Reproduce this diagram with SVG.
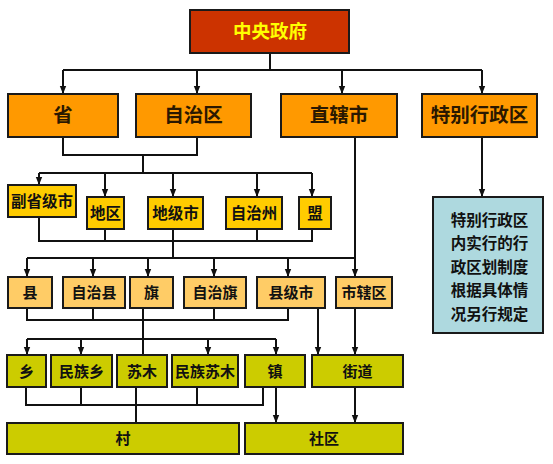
<svg xmlns="http://www.w3.org/2000/svg" width="553" height="464" viewBox="0 0 553 464">
<defs>
<style>
.b{stroke:#1a1a1a;stroke-width:2}
.c0{fill:#CC3300}
.c1{fill:#FF9900}
.c2{fill:#FFCC00}
.c3{fill:#FFCC66}
.c4{fill:#CCCC00}
.c5{fill:#AED9DF}
text{font-family:"Noto Sans CJK SC","Noto Sans",sans-serif;font-weight:bold;text-anchor:middle;fill:#111}
.t0{font-size:18.5px;fill:#FFFF00}
.t1{font-size:19.5px;fill:#2a1800}
.t2{font-size:15.5px}
.t3{font-size:15px}
.ln{fill:none;stroke:#111;stroke-width:2}
</style>
<marker id="ar" markerUnits="userSpaceOnUse" markerWidth="8" markerHeight="8" viewBox="0 0 8 8" refX="8" refY="4" orient="auto">
<path d="M0,0.8 L8,4 L0,7.2 z" fill="#111"/>
</marker>
</defs>
<rect width="553" height="464" fill="#fff"/>
<g id="connectors" class="ln">
<path d="M270 53 V70 M63 70 H482"/>
<path d="M63 70 V94" marker-end="url(#ar)"/>
<path d="M197 70 V94" marker-end="url(#ar)"/>
<path d="M342 70 V94" marker-end="url(#ar)"/>
<path d="M482 70 V94" marker-end="url(#ar)"/>
<path d="M63 137 V155 H197 V137 M143 155 V173 M39 173 H312"/>
<path d="M39 173 V185" marker-end="url(#ar)"/>
<path d="M105 173 V197" marker-end="url(#ar)"/>
<path d="M173 173 V197" marker-end="url(#ar)"/>
<path d="M257 173 V197" marker-end="url(#ar)"/>
<path d="M312 173 V197" marker-end="url(#ar)"/>
<path d="M482 137 V197" marker-end="url(#ar)"/>
<path d="M39 217 V241 H312 V229 M105 229 V241 M257 229 V241 M173 229 V258 M27 258 H355"/>
<path d="M355 137 V277" marker-end="url(#ar)"/>
<path d="M27 258 V277" marker-end="url(#ar)"/>
<path d="M93 258 V277" marker-end="url(#ar)"/>
<path d="M148 258 V277" marker-end="url(#ar)"/>
<path d="M214 258 V277" marker-end="url(#ar)"/>
<path d="M288 258 V277" marker-end="url(#ar)"/>
<path d="M27 308 V320 H288 V308 M93 308 V320 M214 308 V320 M143 308 V355 M27 339 H276"/>
<path d="M27 339 V355" marker-end="url(#ar)"/>
<path d="M81 339 V355" marker-end="url(#ar)"/>
<path d="M208 339 V355" marker-end="url(#ar)"/>
<path d="M276 339 V355" marker-end="url(#ar)"/>
<path d="M318 308 V355" marker-end="url(#ar)"/>
<path d="M355 308 V355" marker-end="url(#ar)"/>
<path d="M26 387 V405 H263 V387 M81 387 V405 M197 387 V405 M136 387 V423"/>
<path d="M276 387 V423" marker-end="url(#ar)"/>
<path d="M355 387 V423" marker-end="url(#ar)"/>
</g>
<g id="n-central"><rect class="b c0" x="190" y="10" width="159" height="43"/><text class="t0" x="270" y="38">中央政府</text></g>
<g id="n-sheng"><rect class="b c1" x="8" y="94" width="110" height="43"/><text class="t1" x="63" y="122">省</text></g>
<g id="n-zizhiqu"><rect class="b c1" x="136" y="94" width="115" height="43"/><text class="t1" x="193.5" y="122">自治区</text></g>
<g id="n-zhixiashi"><rect class="b c1" x="281" y="94" width="116" height="43"/><text class="t1" x="339" y="122">直辖市</text></g>
<g id="n-tebie"><rect class="b c1" x="422" y="94" width="115" height="43"/><text class="t1" x="479.5" y="122">特别行政区</text></g>
<g id="n-fushengji"><rect class="b c2" x="8" y="185" width="68" height="32"/><text class="t2" x="42" y="206.5">副省级市</text></g>
<g id="n-diqu"><rect class="b c2" x="87" y="197" width="37" height="32"/><text class="t2" x="105.5" y="218.5">地区</text></g>
<g id="n-dijishi"><rect class="b c2" x="148" y="197" width="55" height="32"/><text class="t2" x="175.5" y="218.5">地级市</text></g>
<g id="n-zizhizhou"><rect class="b c2" x="226" y="197" width="56" height="32"/><text class="t2" x="254" y="218.5">自治州</text></g>
<g id="n-meng"><rect class="b c2" x="299" y="197" width="32" height="32"/><text class="t2" x="315" y="218.5">盟</text></g>
<g id="n-tebie-note"><rect class="b c5" x="433" y="197" width="110" height="136"/>
<text class="t2" x="489.5" y="225.5">特别行政区</text>
<text class="t2" x="489.5" y="249">内实行的行</text>
<text class="t2" x="489.5" y="272.5">政区划制度</text>
<text class="t2" x="489.5" y="296">根据具体情</text>
<text class="t2" x="489.5" y="319.5">况另行规定</text></g>
<g id="n-xian"><rect class="b c3" x="8" y="277" width="44" height="31"/><text class="t3" x="30" y="298">县</text></g>
<g id="n-zizhixian"><rect class="b c3" x="63" y="277" width="62" height="31"/><text class="t3" x="94" y="298">自治县</text></g>
<g id="n-qi"><rect class="b c3" x="130" y="277" width="43" height="31"/><text class="t3" x="151.5" y="298">旗</text></g>
<g id="n-zizhiqi"><rect class="b c3" x="184" y="277" width="62" height="31"/><text class="t3" x="215" y="298">自治旗</text></g>
<g id="n-xianjishi"><rect class="b c3" x="257" y="277" width="68" height="31"/><text class="t3" x="291" y="298">县级市</text></g>
<g id="n-shixiaqu"><rect class="b c3" x="336" y="277" width="56" height="31"/><text class="t3" x="364" y="298">市辖区</text></g>
<g id="n-xiang"><rect class="b c4" x="7" y="355" width="39" height="32"/><text class="t3" x="26.5" y="376.5">乡</text></g>
<g id="n-minzuxiang"><rect class="b c4" x="51" y="355" width="61" height="32"/><text class="t3" x="81.5" y="376.5">民族乡</text></g>
<g id="n-sumu"><rect class="b c4" x="117" y="355" width="50" height="32"/><text class="t3" x="142" y="376.5">苏木</text></g>
<g id="n-minzusumu"><rect class="b c4" x="172" y="355" width="66" height="32"/><text class="t3" x="205" y="376.5">民族苏木</text></g>
<g id="n-zhen"><rect class="b c4" x="245" y="355" width="60" height="32"/><text class="t3" x="275" y="376.5">镇</text></g>
<g id="n-jiedao"><rect class="b c4" x="312" y="355" width="91" height="32"/><text class="t3" x="357.5" y="376.5">街道</text></g>
<g id="n-cun"><rect class="b c4" x="7" y="423" width="232" height="31"/><text class="t3" x="123" y="444">村</text></g>
<g id="n-shequ"><rect class="b c4" x="245" y="423" width="158" height="31"/><text class="t3" x="324" y="444">社区</text></g>
</svg>
